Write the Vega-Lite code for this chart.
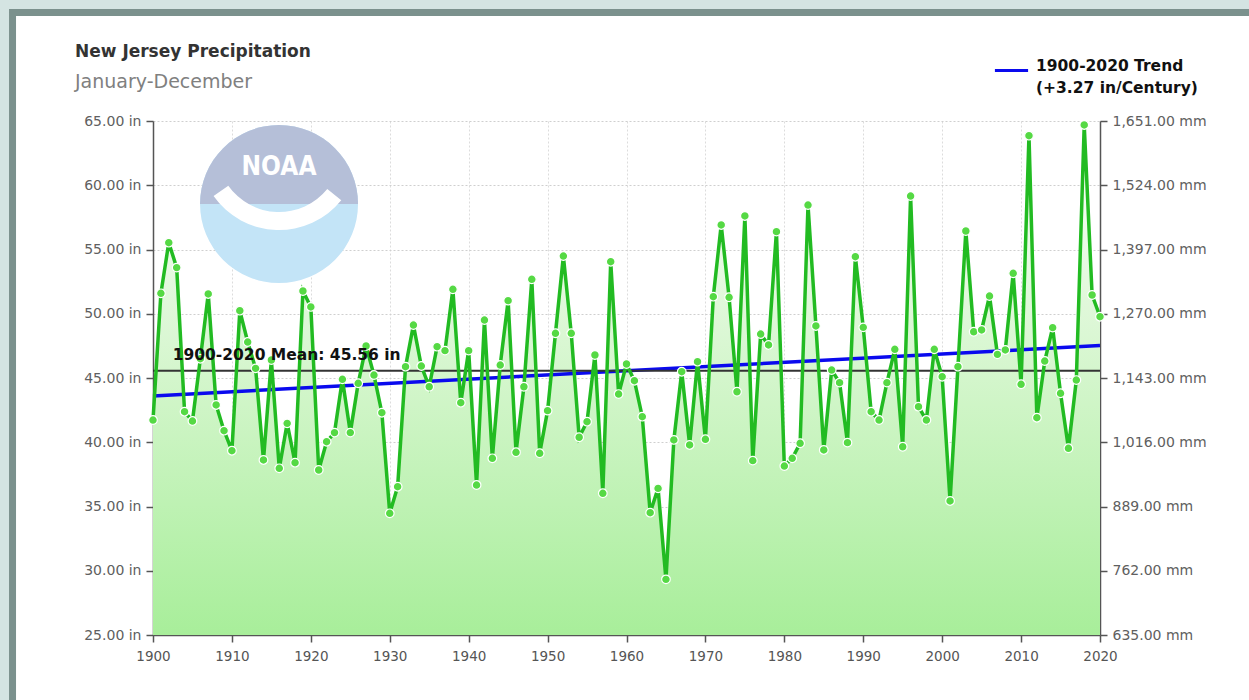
{
  "$schema": "https://vega.github.io/schema/vega-lite/v6.json",
  "autosize": {"type": "none"},
  "width": 947,
  "height": 514,
  "padding": {"left": 153, "top": 121, "right": 149, "bottom": 65},
  "background": "#ffffff",
  "title": {
    "text": "New Jersey Precipitation",
    "subtitle": "January-December",
    "anchor": "start",
    "frame": "group",
    "dx": -78,
    "offset": -93,
    "font": "DejaVu Sans",
    "fontSize": 17,
    "fontWeight": "bold",
    "color": "#333333",
    "subtitleFont": "DejaVu Sans",
    "subtitleFontSize": 19,
    "subtitleColor": "#808080",
    "subtitlePadding": 12
  },
  "config": {
    "view": {"stroke": null},
    "style": {"guide-label": {"lineHeight": 22}}
  },
  "datasets": {
    "precip": [
      {"year": 1900, "precip": 41.73}, {"year": 1901, "precip": 51.59}, {"year": 1902, "precip": 55.53},
      {"year": 1903, "precip": 53.59}, {"year": 1904, "precip": 42.38}, {"year": 1905, "precip": 41.65},
      {"year": 1906, "precip": 46.5}, {"year": 1907, "precip": 51.54}, {"year": 1908, "precip": 42.9},
      {"year": 1909, "precip": 40.9}, {"year": 1910, "precip": 39.34}, {"year": 1911, "precip": 50.24},
      {"year": 1912, "precip": 47.8}, {"year": 1913, "precip": 45.75}, {"year": 1914, "precip": 38.62},
      {"year": 1915, "precip": 46.4}, {"year": 1916, "precip": 37.97}, {"year": 1917, "precip": 41.47},
      {"year": 1918, "precip": 38.41}, {"year": 1919, "precip": 51.77}, {"year": 1920, "precip": 50.53},
      {"year": 1921, "precip": 37.84}, {"year": 1922, "precip": 40.04}, {"year": 1923, "precip": 40.75},
      {"year": 1924, "precip": 44.9}, {"year": 1925, "precip": 40.75}, {"year": 1926, "precip": 44.59},
      {"year": 1927, "precip": 47.49}, {"year": 1928, "precip": 45.23}, {"year": 1929, "precip": 42.3},
      {"year": 1930, "precip": 34.47}, {"year": 1931, "precip": 36.54}, {"year": 1932, "precip": 45.88},
      {"year": 1933, "precip": 49.12}, {"year": 1934, "precip": 45.93}, {"year": 1935, "precip": 44.32},
      {"year": 1936, "precip": 47.44}, {"year": 1937, "precip": 47.13}, {"year": 1938, "precip": 51.9},
      {"year": 1939, "precip": 43.08}, {"year": 1940, "precip": 47.13}, {"year": 1941, "precip": 36.67},
      {"year": 1942, "precip": 49.51}, {"year": 1943, "precip": 38.75}, {"year": 1944, "precip": 46.01},
      {"year": 1945, "precip": 51.02}, {"year": 1946, "precip": 39.22}, {"year": 1947, "precip": 44.32},
      {"year": 1948, "precip": 52.68}, {"year": 1949, "precip": 39.14}, {"year": 1950, "precip": 42.46},
      {"year": 1951, "precip": 48.48}, {"year": 1952, "precip": 54.49}, {"year": 1953, "precip": 48.48},
      {"year": 1954, "precip": 40.39}, {"year": 1955, "precip": 41.6}, {"year": 1956, "precip": 46.79},
      {"year": 1957, "precip": 36.03}, {"year": 1958, "precip": 54.05}, {"year": 1959, "precip": 43.75},
      {"year": 1960, "precip": 46.09}, {"year": 1961, "precip": 44.79}, {"year": 1962, "precip": 41.99},
      {"year": 1963, "precip": 34.52}, {"year": 1964, "precip": 36.41}, {"year": 1965, "precip": 29.33},
      {"year": 1966, "precip": 40.18}, {"year": 1967, "precip": 45.49}, {"year": 1968, "precip": 39.79},
      {"year": 1969, "precip": 46.27}, {"year": 1970, "precip": 40.23}, {"year": 1971, "precip": 51.33},
      {"year": 1972, "precip": 56.91}, {"year": 1973, "precip": 51.28}, {"year": 1974, "precip": 43.93},
      {"year": 1975, "precip": 57.61}, {"year": 1976, "precip": 38.57}, {"year": 1977, "precip": 48.42},
      {"year": 1978, "precip": 47.57}, {"year": 1979, "precip": 56.39}, {"year": 1980, "precip": 38.15},
      {"year": 1981, "precip": 38.75}, {"year": 1982, "precip": 39.92}, {"year": 1983, "precip": 58.46},
      {"year": 1984, "precip": 49.05}, {"year": 1985, "precip": 39.4}, {"year": 1986, "precip": 45.62},
      {"year": 1987, "precip": 44.64}, {"year": 1988, "precip": 39.97}, {"year": 1989, "precip": 54.44},
      {"year": 1990, "precip": 48.94}, {"year": 1991, "precip": 42.38}, {"year": 1992, "precip": 41.73},
      {"year": 1993, "precip": 44.64}, {"year": 1994, "precip": 47.23}, {"year": 1995, "precip": 39.65},
      {"year": 1996, "precip": 59.16}, {"year": 1997, "precip": 42.77}, {"year": 1998, "precip": 41.73},
      {"year": 1999, "precip": 47.23}, {"year": 2000, "precip": 45.1}, {"year": 2001, "precip": 35.43},
      {"year": 2002, "precip": 45.88}, {"year": 2003, "precip": 56.44}, {"year": 2004, "precip": 48.6},
      {"year": 2005, "precip": 48.74}, {"year": 2006, "precip": 51.38}, {"year": 2007, "precip": 46.84},
      {"year": 2008, "precip": 47.18}, {"year": 2009, "precip": 53.15}, {"year": 2010, "precip": 44.51},
      {"year": 2011, "precip": 63.86}, {"year": 2012, "precip": 41.91}, {"year": 2013, "precip": 46.32},
      {"year": 2014, "precip": 48.92}, {"year": 2015, "precip": 43.81}, {"year": 2016, "precip": 39.53},
      {"year": 2017, "precip": 44.84}, {"year": 2018, "precip": 64.69}, {"year": 2019, "precip": 51.46},
      {"year": 2020, "precip": 49.77}
    ],
    "trend": [
      {"year": 1900, "trend": 43.6, "series": "1900-2020 Trend"},
      {"year": 2020, "trend": 47.52, "series": "1900-2020 Trend"}
    ],
    "mean": [
      {"mean": 45.56, "label": "1900-2020 Mean: 45.56 in", "start": 1900, "end": 2020}
    ],
    "logo": [
      {"name": "NOAA"}
    ]
  },
  "layer": [
    {
      "data": {"name": "logo"},
      "mark": {"type": "rect", "fill": null, "stroke": "#d4e4e2", "strokeWidth": 9, "clip": false},
      "encoding": {
        "x": {"datum": 1881.18, "type": "quantitative", "scale": {"domain": [1900, 2020], "nice": false, "zero": false}},
        "x2": {"datum": 2070},
        "y": {"datum": 74.07, "type": "quantitative", "scale": {"domain": [25, 65], "nice": false, "zero": false}, "axis": null},
        "y2": {"datum": 0}
      }
    },
    {
      "data": {"name": "logo"},
      "mark": {"type": "rect", "fill": null, "stroke": "#7b918d", "strokeWidth": 7, "clip": false},
      "encoding": {
        "x": {"datum": 1882.2, "type": "quantitative", "scale": {"domain": [1900, 2020], "nice": false, "zero": false}},
        "x2": {"datum": 2070},
        "y": {"datum": 73.44, "type": "quantitative", "scale": {"domain": [25, 65], "nice": false, "zero": false}, "axis": null},
        "y2": {"datum": 0}
      }
    },
    {
      "data": {"name": "logo"},
      "mark": {"type": "point", "filled": true, "shape": "circle", "size": 24960, "color": "#c3e4f7", "opacity": 1},
      "encoding": {
        "x": {"datum": 1915.97, "type": "quantitative", "scale": {"domain": [1900, 2020], "nice": false, "zero": false}},
        "y": {"datum": 58.54, "type": "quantitative", "scale": {"domain": [25, 65], "nice": false, "zero": false}, "axis": null}
      }
    },
    {
      "data": {"name": "logo"},
      "mark": {"type": "arc", "theta": -1.5708, "theta2": 1.5708, "outerRadius": 79, "innerRadius": 0, "color": "#b5bfd8"},
      "encoding": {
        "x": {"datum": 1915.97, "type": "quantitative", "scale": {"domain": [1900, 2020], "nice": false, "zero": false}},
        "y": {"datum": 58.54, "type": "quantitative", "scale": {"domain": [25, 65], "nice": false, "zero": false}, "axis": null}
      }
    },
    {
      "data": {"name": "logo"},
      "mark": {"type": "arc", "theta": 2.25, "theta2": 4.1, "outerRadius": 80, "innerRadius": 62, "color": "#ffffff"},
      "encoding": {
        "x": {"datum": 1915.97, "type": "quantitative", "scale": {"domain": [1900, 2020], "nice": false, "zero": false}},
        "y": {"datum": 62.74, "type": "quantitative", "scale": {"domain": [25, 65], "nice": false, "zero": false}, "axis": null}
      }
    },
    {
      "data": {"name": "logo"},
      "mark": {"type": "text", "font": "DejaVu Sans Condensed", "fontSize": 26, "fontWeight": "bold", "color": "#ffffff", "align": "center", "baseline": "middle"},
      "encoding": {
        "x": {"datum": 1915.97, "type": "quantitative", "scale": {"domain": [1900, 2020], "nice": false, "zero": false}},
        "y": {"datum": 61.42, "type": "quantitative", "scale": {"domain": [25, 65], "nice": false, "zero": false}, "axis": null},
        "text": {"field": "name"}
      }
    },
    {
      "data": {"name": "precip"},
      "mark": {
        "type": "area",
        "fill": {
          "gradient": "linear", "x1": 0, "y1": 0, "x2": 0, "y2": 1,
          "stops": [
            {"offset": 0, "color": "#ffffff"},
            {"offset": 0.35, "color": "#e0f8da"},
            {"offset": 1, "color": "#a8ee9a"}
          ]
        },
        "opacity": 1
      },
      "encoding": {
        "x": {
          "field": "year", "type": "quantitative",
          "scale": {"domain": [1900, 2020], "nice": false, "zero": false},
          "axis": {
            "values": [1900, 1910, 1920, 1930, 1940, 1950, 1960, 1970, 1980, 1990, 2000, 2010, 2020],
            "format": "d", "title": null,
            "labelFont": "DejaVu Sans", "labelFontSize": 13.5, "labelColor": "#555555",
            "labelPadding": 7, "labelFlush": false,
            "domainColor": "#555555", "domainWidth": 1.5,
            "tickColor": "#555555", "tickSize": 7, "tickWidth": 1.5,
            "grid": true, "gridColor": "#dcdcdc", "gridWidth": 1, "gridDash": [2, 2]
          }
        },
        "y": {
          "field": "precip", "type": "quantitative",
          "scale": {"domain": [25, 65], "nice": false, "zero": false},
          "axis": {
            "orient": "left",
            "values": [25, 30, 35, 40, 45, 50, 55, 60, 65],
            "labelExpr": "format(datum.value, '.2f') + ' in'",
            "title": null,
            "labelFont": "DejaVu Sans", "labelFontSize": 14, "labelColor": "#606060",
            "labelPadding": 5,
            "domainColor": "#555555", "domainWidth": 1.5,
            "tickColor": "#555555", "tickSize": 7, "tickWidth": 1.5,
            "grid": true, "gridColor": "#cfcfcf", "gridWidth": 1, "gridDash": [2, 2]
          }
        },
        "y2": {"datum": 25}
      }
    },
    {
      "data": {"name": "trend"},
      "mark": {"type": "line", "strokeWidth": 3.5},
      "encoding": {
        "x": {"field": "year", "type": "quantitative", "scale": {"domain": [1900, 2020], "nice": false, "zero": false}},
        "y": {"field": "trend", "type": "quantitative", "scale": {"domain": [25, 65], "nice": false, "zero": false}, "axis": null},
        "color": {
          "field": "series", "type": "nominal",
          "scale": {"range": ["#0a0aee"]},
          "legend": {
            "orient": "none", "legendX": 840, "legendY": -69,
            "title": null, "padding": 0,
            "symbolType": "stroke", "symbolSize": 1100, "symbolStrokeWidth": 3,
            "labelExpr": "['1900-2020 Trend', '(+3.27 in/Century)']",
            "labelBaseline": "alphabetic",
            "labelFont": "DejaVu Sans", "labelFontSize": 15.5, "labelFontWeight": "bold",
            "labelColor": "#111111", "labelLimit": 400, "labelOffset": 6
          }
        }
      }
    },
    {
      "data": {"name": "mean"},
      "mark": {"type": "rule", "color": "#333333", "strokeWidth": 2},
      "encoding": {
        "x": {"field": "start", "type": "quantitative", "scale": {"domain": [1900, 2020], "nice": false, "zero": false}},
        "x2": {"field": "end"},
        "y": {"field": "mean", "type": "quantitative", "scale": {"domain": [25, 65], "nice": false, "zero": false}, "axis": null}
      }
    },
    {
      "data": {"name": "precip"},
      "mark": {"type": "line", "color": "#22bb22", "strokeWidth": 3.5},
      "encoding": {
        "x": {"field": "year", "type": "quantitative", "scale": {"domain": [1900, 2020], "nice": false, "zero": false}},
        "y": {"field": "precip", "type": "quantitative", "scale": {"domain": [25, 65], "nice": false, "zero": false}, "axis": null}
      }
    },
    {
      "data": {"name": "precip"},
      "mark": {"type": "point", "filled": true, "shape": "circle", "size": 75, "fill": "#55d944", "stroke": "#ffffff", "strokeWidth": 1.2, "opacity": 1},
      "encoding": {
        "x": {"field": "year", "type": "quantitative", "scale": {"domain": [1900, 2020], "nice": false, "zero": false}},
        "y": {
          "field": "precip", "type": "quantitative",
          "scale": {"domain": [25, 65], "nice": false, "zero": false},
          "axis": {
            "orient": "right",
            "values": [25, 30, 35, 40, 45, 50, 55, 60, 65],
            "labelExpr": "format(datum.value * 25.4, ',.2f') + ' mm'",
            "title": null,
            "labelFont": "DejaVu Sans", "labelFontSize": 14, "labelColor": "#606060",
            "labelPadding": 5,
            "domainColor": "#555555", "domainWidth": 1.5,
            "tickColor": "#555555", "tickSize": 7, "tickWidth": 1.5,
            "grid": false
          }
        }
      }
    },
    {
      "data": {"name": "mean"},
      "mark": {"type": "text", "align": "left", "baseline": "middle", "dy": -16, "font": "DejaVu Sans", "fontSize": 15.5, "fontWeight": "bold", "color": "#111111"},
      "encoding": {
        "x": {"datum": 1902.5, "type": "quantitative", "scale": {"domain": [1900, 2020], "nice": false, "zero": false}},
        "y": {"field": "mean", "type": "quantitative", "scale": {"domain": [25, 65], "nice": false, "zero": false}, "axis": null},
        "text": {"field": "label"}
      }
    }
  ],
  "resolve": {"axis": {"y": "independent"}}
}
